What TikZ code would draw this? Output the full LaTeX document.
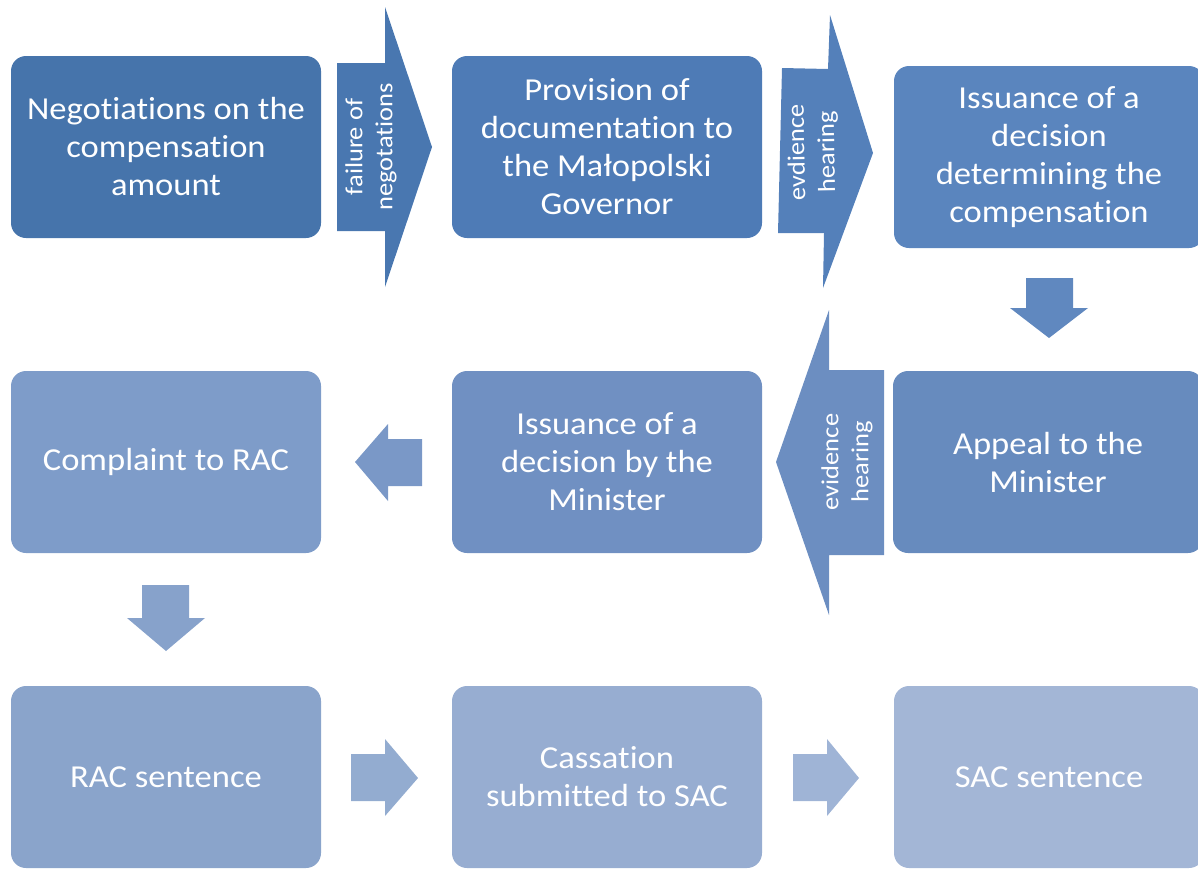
\documentclass[tikz,border=0pt]{standalone}
\usepackage{fontspec}
\setmainfont{Carlito}[Ligatures=NoCommon, FakeStretch=1.08]
\definecolor{cA}{HTML}{4674AB}
\definecolor{cA1}{HTML}{4977B0}
\definecolor{cB}{HTML}{4E7BB6}
\definecolor{cB1}{HTML}{5480BA}
\definecolor{cC}{HTML}{5A85BE}
\definecolor{cC1}{HTML}{6088BF}
\definecolor{cD}{HTML}{678BBE}
\definecolor{cD1}{HTML}{6C8EC1}
\definecolor{cE}{HTML}{7090C2}
\definecolor{cE1}{HTML}{7A98C7}
\definecolor{cF}{HTML}{7E9CC9}
\definecolor{cF1}{HTML}{87A2CB}
\definecolor{cG}{HTML}{8AA4CB}
\definecolor{cG1}{HTML}{93ACD0}
\definecolor{cH}{HTML}{97ADD1}
\definecolor{cH1}{HTML}{9FB4D6}
\definecolor{cI}{HTML}{A3B6D6}
\begin{document}
\begin{tikzpicture}[x=1pt,y=-1pt,
  box/.style={rounded corners=15pt, text=white, align=center,
    font=\fontsize{32}{38}\selectfont, minimum width=310pt,
    minimum height=182pt, inner sep=0pt},
  arrowlabel/.style={text=white, align=center, rotate=90,
    font=\fontsize{24.5}{30}\selectfont, inner sep=0pt}]
\useasboundingbox (0,0) rectangle (1198,868);
\clip (0,0) rectangle (1198,868);

% boxes
\node[box, fill=cA] (A) at (166,147) {Negotiations on the\\compensation\\amount};
\node[box, fill=cB] (B) at (607,147) {Provision of\\documentation to\\the Małopolski\\Governor};
\node[box, fill=cC] (C) at (1049,157) {Issuance of a\\decision\\determining the\\compensation};
\node[box, fill=cD] (D) at (1048,462) {Appeal to the\\Minister};
\node[box, fill=cE] (E) at (607,462) {Issuance of a\\decision by the\\Minister};
\node[box, fill=cF] (F) at (166,462) {Complaint to RAC};
\node[box, fill=cG] (G) at (166,777) {RAC sentence};
\node[box, fill=cH] (H) at (607,777) {Cassation\\submitted to SAC};
\node[box, fill=cI] (I) at (1049,777) {SAC sentence};

% block arrows
\fill[cA1] (337,63) -- (385,63) -- (385,7) -- (432,147) -- (385,287) -- (385,231) -- (337,231) -- cycle;
\node[arrowlabel] (l1) at (371,147) {failure of\\negotations};

\fill[cB1] (782,68) -- (828,69) -- (830,15) -- (873,153) -- (823,288) -- (824,233) -- (778,233) -- cycle;
\node[arrowlabel, rotate=1] (l2) at (813,152) {evdience\\hearing};

\fill[cC1] (1026,278) -- (1073,278) -- (1073,308) -- (1088,308) -- (1049,338) -- (1010,308) -- (1026,308) -- cycle;

\fill[cD1] (884,370) -- (829,370) -- (829,310) -- (776,462) -- (829,615) -- (829,555) -- (884,555) -- cycle;
\node[arrowlabel] (l3) at (847,462) {evidence\\hearing};

\fill[cE1] (422,439) -- (388,439) -- (388,424) -- (355,462) -- (388,501) -- (388,486) -- (422,486) -- cycle;

\fill[cF1] (142,585) -- (189,585) -- (189,618) -- (205,618) -- (166,651) -- (127,618) -- (142,618) -- cycle;

\fill[cG1] (351,754) -- (385,754) -- (385,739) -- (418,778) -- (385,816) -- (385,801) -- (351,801) -- cycle;

\fill[cH1] (793,754) -- (827,754) -- (827,739) -- (859,778) -- (827,816) -- (827,801) -- (793,801) -- cycle;
\end{tikzpicture}
\end{document}
